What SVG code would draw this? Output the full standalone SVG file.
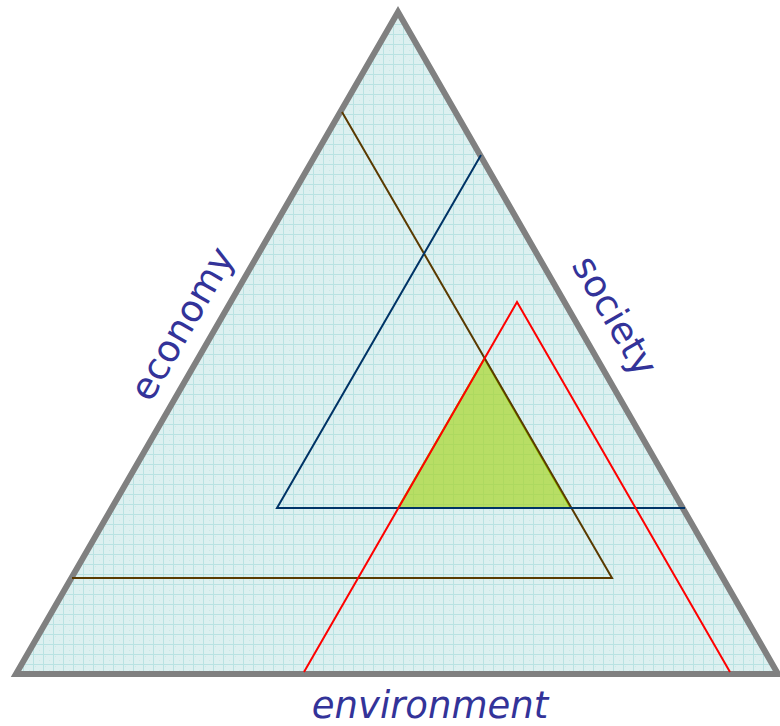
<svg xmlns="http://www.w3.org/2000/svg" width="780" height="726" viewBox="0 0 780 726">
<style>
.lbl{font-family:"DejaVu Sans",Verdana,sans-serif;font-size:37px;fill:#333399}
.ln{fill:none;stroke-width:2}
</style>
<defs>
<pattern id="grid" width="10" height="10" patternUnits="userSpaceOnUse" x="3" y="4">
<rect width="10" height="10" fill="#ddf0f0"/>
<rect x="2" y="2" width="1" height="1" fill="#cfe9e9"/>
<rect x="6" y="6" width="1" height="1" fill="#cfe9e9"/>
<path d="M0 0.5H10M0.5 0V10" stroke="#b9e2e2" stroke-width="1"/>
</pattern>
</defs>
<g id="outer">
<polygon points="398,12 16,674 778,674" fill="url(#grid)" stroke="#808080" stroke-width="6"/>
</g>
<g id="overlap">
<polygon points="484.4,358.6 398.1,508 570.6,508" fill="#a8d52a" fill-opacity="0.7" stroke="#99cc00" stroke-width="2"/>
</g>
<g id="connectors">
<polyline class="ln" stroke="#5a3a00" points="342,112 612,578 72,578"/>
<polyline class="ln" stroke="#003366" points="481,155 277,508 685,508"/>
<polyline class="ln" stroke="#ff0000" points="304,672 517,302 730,672"/>
</g>
<g id="economy"><text class="lbl" text-anchor="middle" transform="translate(193,330) rotate(-60)">economy</text></g>
<g id="society"><text class="lbl" text-anchor="middle" transform="translate(604,322) rotate(60)">society</text></g>
<g id="environment"><text class="lbl" text-anchor="middle" font-style="italic" x="430" y="718">environment</text></g>
</svg>
